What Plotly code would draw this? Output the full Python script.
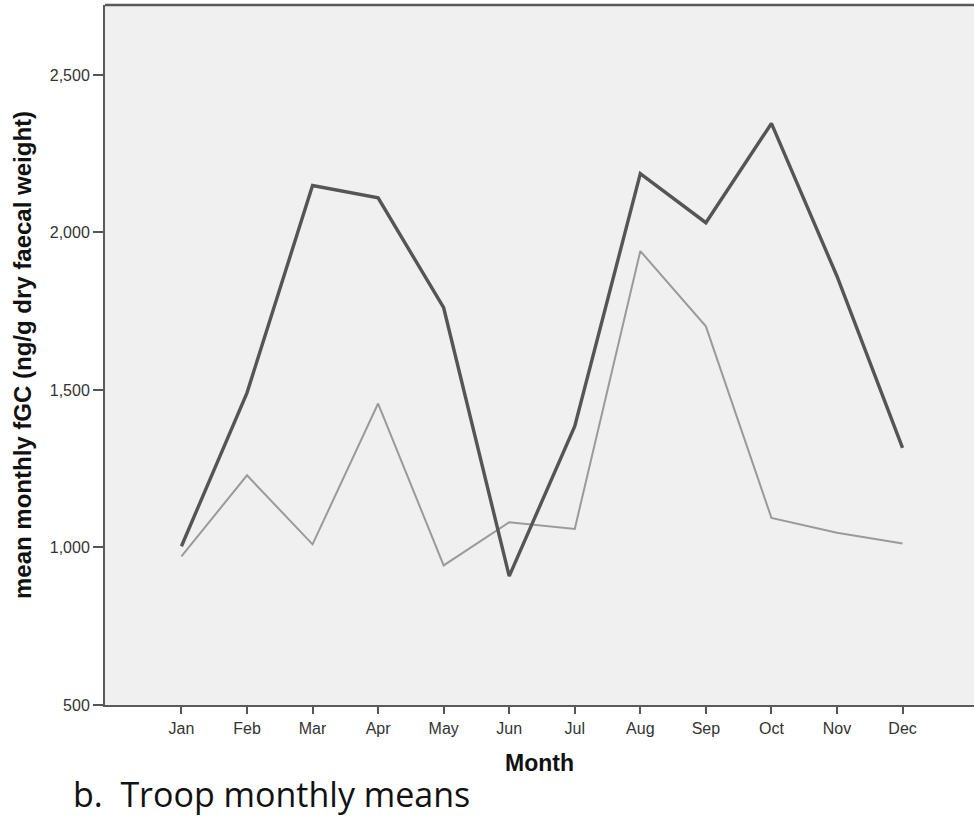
import plotly.graph_objects as go

months = ["Jan", "Feb", "Mar", "Apr", "May", "Jun", "Jul", "Aug", "Sep", "Oct", "Nov", "Dec"]
series_dark = [1004, 1491, 2149, 2110, 1761, 909, 1385, 2187, 2031, 2346, 1861, 1316]
series_light = [972, 1229, 1010, 1457, 943, 1080, 1059, 1941, 1702, 1094, 1047, 1013]
y_ticks = [500, 1000, 1500, 2000, 2500]

x_idx = list(range(len(months)))

fig = go.Figure()
fig.add_trace(go.Scatter(x=x_idx, y=series_light, mode="lines",
                         line=dict(color="#9a9a9a", width=2), showlegend=False))
fig.add_trace(go.Scatter(x=x_idx, y=series_dark, mode="lines",
                         line=dict(color="#555555", width=3.4), showlegend=False))

fig.update_layout(
    width=974, height=816,
    margin=dict(l=105, r=0, t=5, b=111),
    paper_bgcolor="white",
    plot_bgcolor="#f0f0f0",
    font=dict(family="Liberation Sans, Arial", color="#333333"),
    xaxis=dict(
        range=[-1.166, 12.09],
        tickmode="array", tickvals=x_idx, ticktext=months,
        ticks="outside", ticklen=7, tickwidth=1.5, tickcolor="#555555",
        tickfont=dict(size=16, color="#333333"),
        ticklabelstandoff=1,
        showgrid=False, zeroline=False,
        showline=True, linecolor="#5a5a5a", linewidth=2,
        title=dict(text="<b>Month</b>", font=dict(size=23, color="#111111"), standoff=19),
    ),
    yaxis=dict(
        range=[500, 2722],
        tickmode="array", tickvals=y_ticks,
        tickformat=",d",
        ticks="outside", ticklen=10, tickwidth=1.5, tickcolor="#555555",
        tickfont=dict(size=16, color="#333333"),
        showgrid=False, zeroline=False,
        showline=True, linecolor="#5a5a5a", linewidth=2,
        title=dict(text="<b>mean monthly fGC (ng/g dry faecal weight)</b>",
                   font=dict(size=24, color="#111111"), standoff=11),
    ),
    shapes=[dict(type="line", xref="paper", yref="paper", x0=0, x1=1, y0=1, y1=1,
                 line=dict(color="#5a5a5a", width=2.5))],
    annotations=[dict(text="b.  Troop monthly means", xref="paper", yref="paper",
                      x=-0.039, y=-0.127, xanchor="left", yanchor="middle",
                      showarrow=False,
                      font=dict(family="Open Sans, Noto Sans", size=34, color="#111111"))],
)

fig.write_html("out.html", config={"displayModeBar": False},
               post_script="document.body.style.margin='0';document.body.style.overflow='hidden';")
